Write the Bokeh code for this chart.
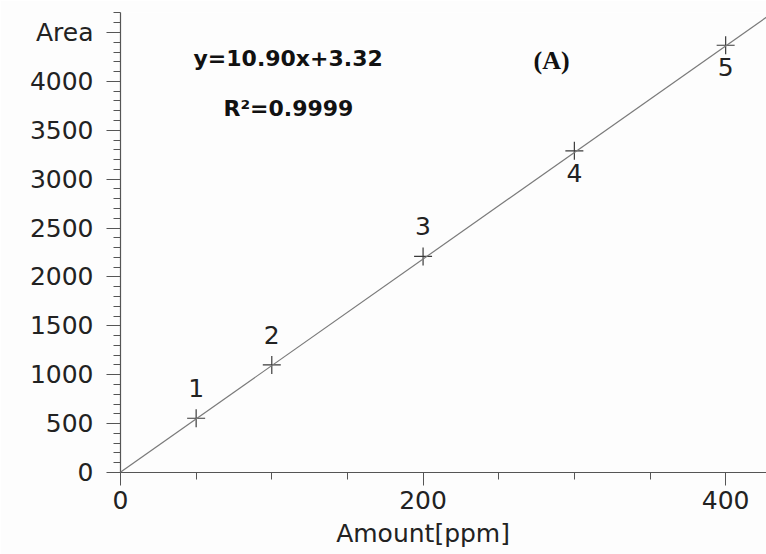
from bokeh.plotting import figure
from bokeh.models import (ColumnDataSource, Label, Slope, SingleIntervalTicker,
                          FixedTicker, LinearAxis, Range1d)
from bokeh.embed import file_html
from bokeh.resources import INLINE

# Calibration standards: concentration (ppm) and detector peak area
amount_ppm = [50, 100, 200, 300, 400]
peak_area = [555, 1100, 2210, 3290, 4370]
point_ids = ["1", "2", "3", "4", "5"]

# Least-squares fit reported on the chart
fit_slope = 10.90
fit_intercept = 3.32
fit_r2 = 0.9999

# axis titles (the y title takes the place of the top tick label)
x_title = "Amount[ppm]"
y_title = "Area"

FONT = "DejaVu Sans"
INK = "#222222"
AXIS = "#555555"

p = figure(width=766, height=554, output_backend="svg", toolbar_location=None,
           x_range=Range1d(0, 427), y_range=Range1d(0, 4705),
           min_border_left=120, min_border_right=0,
           min_border_top=12, min_border_bottom=82)
p.outline_line_color = None
p.background_fill_color = "#fdfdfd"
p.border_fill_color = "#fdfdfd"
p.xgrid.visible = False
p.ygrid.visible = False

# axes: outward ticks only, major + minor
for ax in (p.xaxis[0], p.yaxis[0]):
    ax.axis_line_color = AXIS
    ax.axis_line_width = 1.2
    ax.major_tick_line_color = AXIS
    ax.minor_tick_line_color = AXIS
    ax.major_tick_in = 0
    ax.minor_tick_in = 0
    ax.major_label_text_font = FONT
    ax.major_label_text_font_size = "25px"
    ax.major_label_text_color = INK

p.xaxis.ticker = SingleIntervalTicker(interval=200, num_minor_ticks=4)
p.xaxis.major_tick_out = 13
p.xaxis.minor_tick_out = 7
p.xaxis.major_label_standoff = 5

p.yaxis.ticker = SingleIntervalTicker(interval=500, num_minor_ticks=5)
p.yaxis.major_tick_out = 14
p.yaxis.minor_tick_out = 7
p.yaxis.major_label_standoff = 13
p.yaxis.major_label_overrides = {4500: y_title}

# x title as a bare secondary axis under the first one, centred at 200 ppm
title_axis = LinearAxis(ticker=FixedTicker(ticks=[200]),
                        major_label_overrides={200: x_title},
                        axis_line_color=None, major_tick_line_color=None,
                        minor_tick_line_color=None, major_tick_out=0,
                        major_tick_in=0, major_label_standoff=7,
                        major_label_text_font=FONT,
                        major_label_text_font_size="25px",
                        major_label_text_color=INK)
p.add_layout(title_axis, "below")

# regression line
p.add_layout(Slope(gradient=fit_slope, y_intercept=fit_intercept,
                   line_color="#7a7a7a", line_width=1.2))

src = ColumnDataSource(dict(x=amount_ppm, y=peak_area, t=point_ids))
p.scatter("x", "y", source=src, marker="cross", size=18,
          line_color="#3a3a3a", line_width=1.2)

# point numbers: first three above the marker, last two below
above = ColumnDataSource(dict(x=amount_ppm[:3], y=peak_area[:3], t=point_ids[:3]))
below = ColumnDataSource(dict(x=amount_ppm[3:], y=peak_area[3:], t=point_ids[3:]))
common = dict(text="t", text_font={"value": FONT}, text_font_size="25px",
              text_color=INK, text_align="center", text_baseline="middle")
p.text("x", "y", source=above, y_offset=-30, **common)
p.text("x", "y", source=below, y_offset=22, **common)

# fit annotations
p.add_layout(Label(x=73, y=414, x_units="screen", y_units="screen",
                   text=f"y={fit_slope:.2f}x+{fit_intercept:.2f}",
                   text_font=FONT, text_font_size="22px", text_font_style="bold",
                   text_color="#111111", text_baseline="middle"))
p.add_layout(Label(x=103, y=364, x_units="screen", y_units="screen",
                   text=f"R\u00b2={fit_r2:.4f}",
                   text_font=FONT, text_font_size="22px", text_font_style="bold",
                   text_color="#111111", text_baseline="middle"))
p.add_layout(Label(x=413, y=412, x_units="screen", y_units="screen",
                   text="(A)", text_font="Liberation Serif", text_font_size="26px",
                   text_font_style="bold", text_color="#111111",
                   text_baseline="middle"))

open("out.html", "w").write(file_html(p, INLINE))
